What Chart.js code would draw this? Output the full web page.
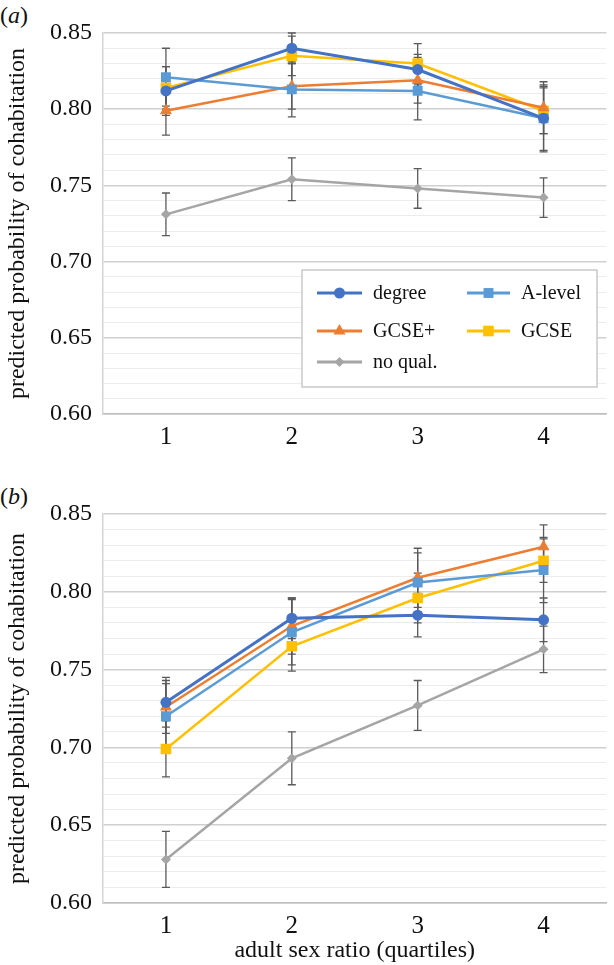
<!DOCTYPE html>
<html>
<head>
<meta charset="utf-8">
<script src="https://cdn.jsdelivr.net/npm/chart.js@4/dist/chart.umd.min.js"></script>
<style>
  html, body { margin: 0; padding: 0; background: #fff; }
  body { width: 614px; height: 965px; position: relative; overflow: hidden; font-family: "Liberation Serif", serif; }
  .panel { position: absolute; left: 0; width: 614px; }
  .tag { position: absolute; left: 0; font-size: 24px; line-height: 28px; color: #111; }
</style>
</head>
<body>
<div class="tag" style="top:1px">(<i>a</i>)</div>
<div class="tag" style="top:482px">(<i>b</i>)</div>
<div class="panel" style="top:0;height:470px"><canvas id="chartA" width="614" height="470"></canvas></div>
<div class="panel" style="top:480px;height:485px"><canvas id="chartB" width="614" height="485"></canvas></div>
<script>
// x categories (sex ratio quartiles)
const quartiles = ['1', '2', '3', '4'];
const seriesNames = ['degree', 'A-level', 'GCSE+', 'GCSE', 'no qual.'];

// panel (a) values and error half-widths
const aDegree = [0.812, 0.840, 0.826, 0.794];
const aALevel = [0.821, 0.813, 0.812, 0.794];
const aGcsePlus = [0.799, 0.815, 0.819, 0.801];
const aGcse = [0.814, 0.835, 0.830, 0.799];
const aNoQual = [0.731, 0.754, 0.748, 0.742];
const aDegreeErr = [0.016, 0.010, 0.010, 0.021];
const aALevelErr = [0.019, 0.018, 0.019, 0.022];
const aGcsePlusErr = [0.016, 0.015, 0.015, 0.017];
const aGcseErr = [0.014, 0.013, 0.013, 0.015];
const aNoQualErr = [0.014, 0.014, 0.013, 0.013];

// panel (b) values and error half-widths
const bDegree = [0.729, 0.783, 0.785, 0.782];
const bALevel = [0.720, 0.774, 0.806, 0.814];
const bGcsePlus = [0.726, 0.778, 0.809, 0.829];
const bGcse = [0.699, 0.765, 0.796, 0.820];
const bNoQual = [0.628, 0.693, 0.727, 0.763];
const bDegreeErr = [0.016, 0.013, 0.014, 0.014];
const bALevelErr = [0.021, 0.021, 0.019, 0.021];
const bGcsePlusErr = [0.017, 0.018, 0.019, 0.014];
const bGcseErr = [0.018, 0.016, 0.016, 0.014];
const bNoQualErr = [0.018, 0.017, 0.016, 0.015];

const yMin = 0.60, yMax = 0.85, yStep = 0.01;

const styles = [
    { color: '#4472C4', point: 'circle', radius: 5.5, width: 3 },
    { color: '#5B9BD5', point: 'rect', radius: 7, width: 2.5 },
    { color: '#ED7D31', point: 'triangle', radius: 7, width: 2.5 },
    { color: '#FFC000', point: 'rect', radius: 7.5, width: 2.5 },
    { color: '#A5A5A5', point: 'rectRot', radius: 5, width: 2.5 }
];

const serif = '"Liberation Serif", serif';

function makeDatasets(values, errs) {
    return values.map((v, i) => ({
        label: seriesNames[i],
        data: v,
        errors: errs[i],
        borderColor: styles[i].color,
        backgroundColor: styles[i].color,
        borderWidth: styles[i].width,
        pointStyle: styles[i].point,
        pointRadius: styles[i].radius,
        pointBorderWidth: 0,
        pointHoverRadius: styles[i].radius,
        tension: 0
    }));
}

// error bars drawn under the lines
const errorBars = {
    id: 'errorBars',
    beforeDatasetsDraw(chart) {
        const ctx = chart.ctx;
        const y = chart.scales.y;
        ctx.save();
        ctx.strokeStyle = '#5a5a5a';
        ctx.lineWidth = 1.3;
        chart.data.datasets.forEach((ds, di) => {
            const meta = chart.getDatasetMeta(di);
            meta.data.forEach((pt, i) => {
                const v = ds.data[i], e = ds.errors[i];
                const top = y.getPixelForValue(v + e);
                const bot = y.getPixelForValue(v - e);
                ctx.beginPath();
                ctx.moveTo(pt.x, top); ctx.lineTo(pt.x, bot);
                ctx.moveTo(pt.x - 4, top); ctx.lineTo(pt.x + 4, top);
                ctx.moveTo(pt.x - 4, bot); ctx.lineTo(pt.x + 4, bot);
                ctx.stroke();
            });
        });
        ctx.restore();
    }
};

// boxed two-column legend inside panel (a)
const boxLegend = {
    id: 'boxLegend',
    afterDraw(chart, args, opts) {
        if (!opts.show) return;
        const ctx = chart.ctx;
        ctx.save();
        ctx.fillStyle = '#fff';
        ctx.fillRect(302, 270, 295, 117);
        ctx.strokeStyle = '#c9c9c9';
        ctx.lineWidth = 1.5;
        ctx.strokeRect(302, 270, 295, 117);
        const rows = [293, 331, 362];
        const cols = [{ l: 317, r: 362, t: 373 }, { l: 467, r: 510, t: 521 }];
        ctx.font = '20px ' + serif;
        ctx.textBaseline = 'middle';
        chart.data.datasets.forEach((ds, i) => {
            const c = cols[i % 2], yy = rows[Math.floor(i / 2)];
            ctx.strokeStyle = ds.borderColor;
            ctx.lineWidth = 3;
            ctx.beginPath(); ctx.moveTo(c.l, yy); ctx.lineTo(c.r, yy); ctx.stroke();
            ctx.fillStyle = ds.backgroundColor;
            Chart.helpers.drawPoint(ctx, { pointStyle: ds.pointStyle, radius: ds.pointRadius, rotation: 0, borderWidth: 0 }, (c.l + c.r) / 2, yy);
            ctx.fillStyle = '#111';
            ctx.fillText(ds.label, c.t, yy + 1);
        });
        ctx.restore();
    }
};

function makeChart(id, values, errs, showLegend, xTitle, plotTop, plotBottom, canvasH) {
    new Chart(document.getElementById(id), {
        type: 'line',
        data: { labels: quartiles, datasets: makeDatasets(values, errs) },
        options: {
            responsive: false,
            animation: false,
            events: [],
            layout: { padding: { top: plotTop, right: 2, left: 0, bottom: 0 } },
            plugins: {
                legend: { display: false },
                tooltip: { enabled: false },
                boxLegend: { show: showLegend }
            },
            scales: {
                x: {
                    type: 'category',
                    offset: true,
                    grid: { display: false, drawTicks: false },
                    border: { display: true, color: '#bdbdbd', width: 1.5 },
                    ticks: { color: '#111', font: { family: serif, size: 25 }, padding: 8 },
                    title: {
                        display: !!xTitle,
                        text: xTitle || '',
                        color: '#111',
                        font: { family: serif, size: 24 },
                        padding: { top: 0, bottom: 0 }
                    },
                    afterFit(scale) { scale.height = canvasH - plotBottom; }
                },
                y: {
                    min: yMin,
                    max: yMax,
                    grid: {
                        drawTicks: false,
                        color: ctx => (Math.round(ctx.tick.value * 100) % 5 === 0) ? '#cfcfcf' : '#ececec',
                        lineWidth: ctx => (Math.round(ctx.tick.value * 100) % 5 === 0) ? 1.5 : 1
                    },
                    border: { display: true, color: '#d4d4d4', width: 1.5 },
                    ticks: {
                        stepSize: yStep,
                        autoSkip: false,
                        padding: 11,
                        color: '#111',
                        font: { family: serif, size: 24 },
                        callback: v => (Math.round(v * 100) % 5 === 0) ? v.toFixed(2) : ''
                    },
                    title: {
                        display: true,
                        text: 'predicted probability of cohabitation',
                        color: '#111',
                        font: { family: serif, size: 24 },
                        padding: { top: 3, bottom: 0 }
                    },
                    afterFit(scale) { scale.width = 103; }
                }
            }
        },
        plugins: [errorBars, boxLegend]
    });
}

function drawAll() {
    makeChart('chartA',
        [aDegree, aALevel, aGcsePlus, aGcse, aNoQual],
        [aDegreeErr, aALevelErr, aGcsePlusErr, aGcseErr, aNoQualErr],
        true, null, 33, 414, 470);

    makeChart('chartB',
        [bDegree, bALevel, bGcsePlus, bGcse, bNoQual],
        [bDegreeErr, bALevelErr, bGcsePlusErr, bGcseErr, bNoQualErr],
        false, 'adult sex ratio (quartiles)', 34, 423, 485);
}

// canvas text needs the font ready before the first draw
Promise.all([
    document.fonts.load('24px "Liberation Serif"'),
    document.fonts.load('italic 24px "Liberation Serif"')
]).then(drawAll, drawAll);
</script>
</body>
</html>
